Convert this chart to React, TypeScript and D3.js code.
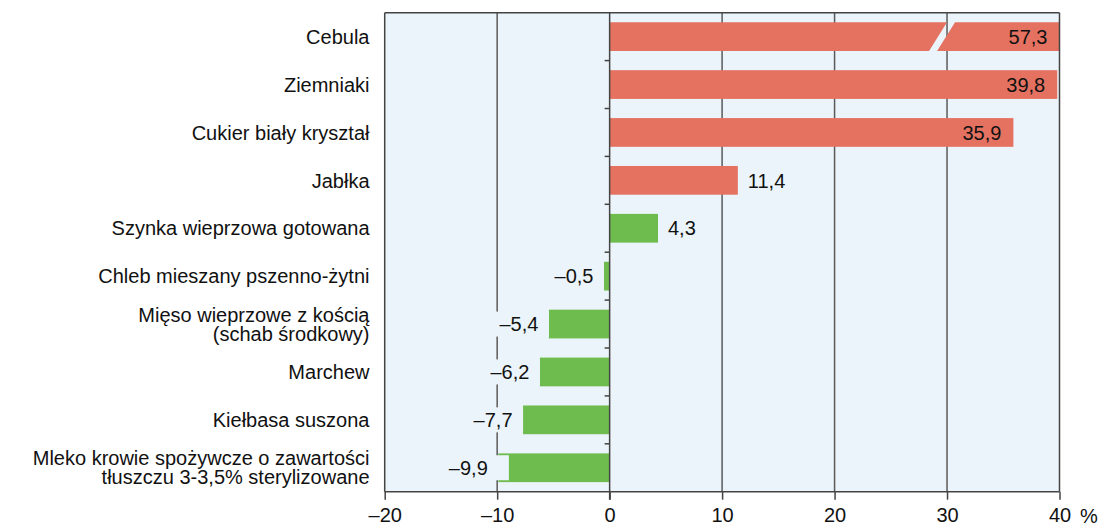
import React, { useEffect, useRef } from "react";
import * as d3 from "d3";

const categories: string[][] = [
  ["Cebula"],
  ["Ziemniaki"],
  ["Cukier biały kryształ"],
  ["Jabłka"],
  ["Szynka wieprzowa gotowana"],
  ["Chleb mieszany pszenno-żytni"],
  ["Mięso wieprzowe z kością", "(schab środkowy)"],
  ["Marchew"],
  ["Kiełbasa suszona"],
  ["Mleko krowie spożywcze o zawartości", "tłuszczu 3-3,5% sterylizowane"],
];
const values: number[] = [57.3, 39.8, 35.9, 11.4, 4.3, -0.5, -5.4, -6.2, -7.7, -9.9];
const groups: string[] = ["high", "high", "high", "high", "low", "low", "low", "low", "low", "low"];
const xTicks: number[] = [-20, -10, 0, 10, 20, 30, 40];
const unitLabel = "%";

const W = 1102;
const H = 525;
const X0 = 384.7;
const X1 = 1059.5;
const Y0 = 12.7;
const Y1 = 491.7;
const BG = "#ebf4fa";
const RED = "#e57261";
const GREEN = "#6fbc4e";
const DARK = "#444";
const GRID = "#5a5a5a";
const FONT = "'Liberation Sans', Arial, Helvetica, sans-serif";
const FS = 20;

const fmt = (v: number) => (v < 0 ? "–" : "") + Math.abs(v).toFixed(1).replace(".", ",");

export default function App() {
  const ref = useRef<SVGSVGElement | null>(null);

  useEffect(() => {
    const svg = d3.select(ref.current);
    svg.selectAll("*").remove();

    const x = d3.scaleLinear().domain([-20, 40]).range([X0, X1]);
    const keys = categories.map((_, i) => String(i));
    const y = d3.scaleBand<string>().domain(keys).range([Y0, Y1]).paddingInner(0.4).paddingOuter(0.2);
    const color = d3.scaleOrdinal<string, string>().domain(["high", "low"]).range([RED, GREEN]);
    const step = y.step();
    const bw = y.bandwidth();

    svg.append("rect").attr("x", X0).attr("y", Y0).attr("width", X1 - X0).attr("height", Y1 - Y0).attr("fill", BG);

    svg.append("g").selectAll("line")
      .data(xTicks.filter((t) => t !== 0 && t !== -20 && t !== 40))
      .join("line")
      .attr("x1", (d) => x(d)).attr("x2", (d) => x(d))
      .attr("y1", Y0).attr("y2", Y1)
      .attr("stroke", GRID).attr("stroke-width", 1.5);

    const gBars = svg.append("g");
    values.forEach((v, i) => {
      const yy = y(String(i))!;
      const c = color(groups[i]);
      const xa = x(Math.min(0, v));
      const xb = Math.min(x(Math.max(0, v)), X1);
      if (x(v) > X1) {
        const bx = x(29.2);
        const gap = 8;
        const slant = 18;
        const p1 = [[xa, yy], [bx + slant / 2, yy], [bx - slant / 2, yy + bw], [xa, yy + bw]];
        const p2 = [[bx + slant / 2 + gap, yy], [xb, yy], [xb, yy + bw], [bx - slant / 2 + gap, yy + bw]];
        [p1, p2].forEach((p) => {
          gBars.append("path").attr("d", "M" + p.map((q) => q.join(",")).join("L") + "Z").attr("fill", c);
        });
      } else {
        gBars.append("rect").attr("x", xa).attr("y", yy).attr("width", xb - xa).attr("height", bw).attr("fill", c);
      }
    });

    const gLab = svg.append("g").attr("font-family", FONT).attr("font-size", FS).attr("fill", "#111");
    values.forEach((v, i) => {
      const cy = y(String(i))! + bw / 2;
      if (v >= 0) {
        const end = Math.min(x(v), X1);
        if (v >= 30) {
          gLab.append("text").attr("x", end - 12).attr("y", cy).attr("dy", "0.36em").attr("text-anchor", "end").text(fmt(v));
        } else {
          gLab.append("text").attr("x", end + 10).attr("y", cy).attr("dy", "0.36em").attr("text-anchor", "start").text(fmt(v));
        }
      } else {
        const t = gLab.append("text").attr("x", x(v) - 10.5).attr("y", cy).attr("dy", "0.36em").attr("text-anchor", "end").text(fmt(v));
        const bb = (t.node() as SVGTextElement).getBBox();
        const right = x(v) + (v < -9 ? 10.6 : 0);
        gLab.insert("rect", "text")
          .attr("x", bb.x - 4).attr("y", cy - 12.5)
          .attr("width", right - (bb.x - 4)).attr("height", 25)
          .attr("fill", BG);
      }
    });
    gLab.selectAll("text").raise();

    svg.append("line").attr("x1", X0).attr("x2", X1).attr("y1", Y0).attr("y2", Y0).attr("stroke", DARK).attr("stroke-width", 1.5);
    svg.append("line").attr("x1", X0).attr("x2", X0).attr("y1", Y0).attr("y2", Y1).attr("stroke", DARK).attr("stroke-width", 1.5);
    svg.append("line").attr("x1", X1).attr("x2", X1).attr("y1", Y0).attr("y2", Y1).attr("stroke", DARK).attr("stroke-width", 1.5);

    const x0 = x(0);
    svg.append("line").attr("x1", x0).attr("x2", x0).attr("y1", Y0).attr("y2", Y1 + 8).attr("stroke", DARK).attr("stroke-width", 1.5);
    svg.append("g").selectAll("line")
      .data(d3.range(1, categories.length))
      .join("line")
      .attr("x1", x0 - 5).attr("x2", x0)
      .attr("y1", (d) => Y0 + d * step).attr("y2", (d) => Y0 + d * step)
      .attr("stroke", DARK).attr("stroke-width", 1.5);

    const axis = d3.axisBottom(x).tickValues(xTicks).tickSize(8).tickPadding(8)
      .tickFormat((d) => ((d as number) < 0 ? "–" + Math.abs(d as number) : String(d)));
    const gAx = svg.append("g").attr("transform", `translate(0,${Y1})`).call(axis);
    gAx.select(".domain").attr("stroke", DARK).attr("stroke-width", 1.5).attr("d", `M${X0},0H${X1}`);
    gAx.selectAll(".tick line").attr("stroke", DARK).attr("stroke-width", 1.5);
    gAx.selectAll(".tick text").attr("font-family", FONT).attr("font-size", FS).attr("fill", "#111");
    svg.append("text").attr("x", 1080).attr("y", Y1 + 24).attr("dy", "0.36em")
      .attr("font-family", FONT).attr("font-size", FS).attr("fill", "#111").text(unitLabel);

    const gCat = svg.append("g").attr("font-family", FONT).attr("font-size", FS).attr("fill", "#111").attr("text-anchor", "end");
    categories.forEach((lines, i) => {
      const cy = y(String(i))! + bw / 2;
      const lh = 19;
      lines.forEach((ln, j) => {
        gCat.append("text").attr("x", 369.5).attr("y", cy + (j - (lines.length - 1) / 2) * lh).attr("dy", "0.36em").text(ln);
      });
    });
  }, []);

  return (
    <svg ref={ref} width={W} height={H} style={{ position: "absolute", left: 0, top: 0, background: "#fff" }} />
  );
}
